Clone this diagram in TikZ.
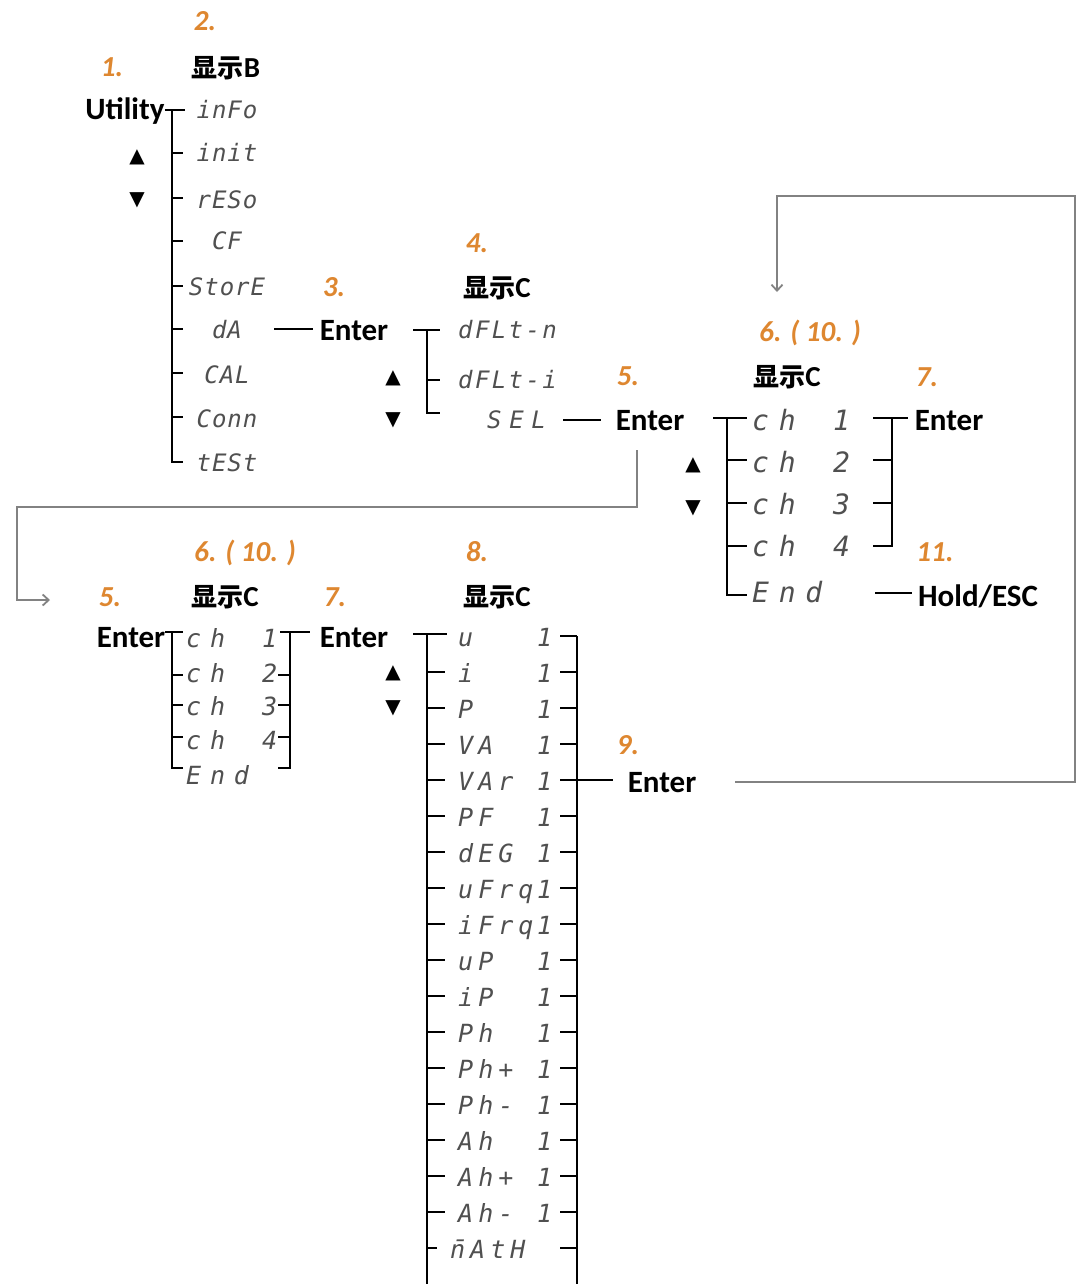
\documentclass[tikz,border=0pt]{standalone}
\usepackage{fontspec}
\setmainfont{Carlito}
\newfontfamily\cjk{Noto Sans CJK SC}
\newfontfamily\sym{DejaVu Sans}
\newfontfamily\segA{DejaVu Sans Mono}[LetterSpace=4]
\newfontfamily\segB{DejaVu Sans Mono}[LetterSpace=10]
\newfontfamily\segW{DejaVu Sans Mono}[LetterSpace=32]
\newfontfamily\segC{DejaVu Sans Mono}[LetterSpace=35]
\newfontfamily\segD{DejaVu Sans Mono}[LetterSpace=35]
\newfontfamily\segE{DejaVu Sans Mono}[LetterSpace=20]
\newcommand\xianshi[1]{{\cjk\bfseries\fontsize{26}{27}\selectfont 显示}{\fontsize{29}{30}\selectfont #1}}
\usetikzlibrary{arrows.meta}
\definecolor{org}{RGB}{222,135,48}
\definecolor{segc}{RGB}{80,80,80}
\definecolor{loopc}{RGB}{130,130,130}
\tikzset{
  lbl/.style={font=\fontsize{31}{32}\selectfont\bfseries, inner sep=0pt, text height=20pt, text depth=0pt},
  num/.style={font=\fontsize{29}{30}\selectfont\bfseries\itshape, text=org, inner sep=0pt, text height=18pt, text depth=0pt},
  disp/.style={font=\bfseries, inner sep=0pt, text height=19pt, text depth=0pt},
  arr/.style={font=\sym\fontsize{20}{20}\selectfont, inner sep=0pt},
  sA/.style={font=\segA\itshape\fontsize{24}{24}\selectfont, text=segc, inner sep=0pt, text height=17pt, text depth=0pt},
  sB/.style={font=\segB\itshape\fontsize{24}{24}\selectfont, text=segc, inner sep=0pt, text height=17pt, text depth=0pt, anchor=west},
  sW/.style={font=\segW\itshape\fontsize{24}{24}\selectfont, text=segc, inner sep=0pt, text height=17pt, text depth=0pt, anchor=west},
  sC/.style={font=\segC\itshape\fontsize{28}{28}\selectfont, text=segc, inner sep=0pt, text height=20pt, text depth=0pt, anchor=west},
  sD/.style={font=\segD\itshape\fontsize{25}{25}\selectfont, text=segc, inner sep=0pt, text height=18pt, text depth=0pt, anchor=west},
  sE/.style={font=\segE\itshape\fontsize{25}{25}\selectfont, text=segc, inner sep=0pt, text height=18pt, text depth=0pt, anchor=west},
  ln/.style={line width=1.6pt, black},
  lp/.style={line width=1.8pt, loopc},
}
\begin{document}
\begin{tikzpicture}[x=1pt,y=-1pt]
\useasboundingbox[fill=white] (0,0) rectangle (1077,1284);

% ---------- Group A : Utility ----------
\node[num] (n2) at (205,22) {2.};
\node[num] (n1) at (112,68) {1.};
\node[disp] (dB) at (226,68) {\xianshi{B}};
\node[lbl] (util) at (125,110) {Utility};
\node[arr] (upA) at (137,157) {▲};
\node[arr] (dnA) at (137,200) {▼};
\foreach \t/\y/\nm in {inFo/110/a1, init/153/a2, rESo/200/a3, CF/241/a4, StorE/287/a5, dA/330/a6, CAL/375/a7, Conn/419/a8, tESt/463/a9}
  \node[sA] (\nm) at (227,\y) {\t};
\draw[ln] (util.east) -- (185,110);
\draw[ln] (172,110) -- (172,462) -- (183,462);
\foreach \y in {153,198,241,286,329,373,417}
  \draw[ln] (172,\y) -- (183,\y);

% ---------- Group B : dA -> Enter ----------
\node[num] (n3) at (334,287) {3.};
\node[lbl] (e3) at (354,330) {Enter};
\node[num] (n4) at (477,243) {4.};
\node[disp] (dC1) at (497,288) {\xianshi{C}};
\node[arr] (upB) at (393,378) {▲};
\node[arr] (dnB) at (393,420) {▼};
\node[sB] (b1) at (458,330) {dFLt-n};
\node[sB] (b2) at (458,380) {dFLt-i};
\node[sW] (b3) at (487,420) {SEL};
\coordinate (dAout) at (274,329);
\draw[ln] (dAout) -- ([xshift=-7pt]e3.west |- dAout);
\draw[ln] (413,330) -- (440,330);
\draw[ln] (427,330) -- (427,413) -- (440,413);
\draw[ln] (427,380) -- (440,380);

% ---------- Group C : SEL -> Enter -> ch ----------
\node[num] (n5a) at (628,376) {5.};
\node[lbl] (e5) at (650,420) {Enter};
\coordinate (selout) at (563,420);
\draw[ln] (selout) -- ([xshift=-15pt]e5.west);
\node[num] (n6a) at (810,332) {6. ( 10. )};
\node[disp] (dC2) at (787,377) {\xianshi{C}};
\node[num] (n7a) at (927,377) {7.};
\node[arr] (upC) at (693,465) {▲};
\node[arr] (dnC) at (693,508) {▼};
\foreach \d/\y/\nm in {1/420/c1, 2/462/c2, 3/504/c3, 4/546/c4}{
  \node[sC] (\nm) at (752,\y) {ch};
  \node[sC] (\nm d) at (833,\y) {\d};
}
\node[sC] (c5) at (752,592) {End};
\draw[ln] (713,418) -- (747,418);
\draw[ln] (727,418) -- (727,595) -- (747,595);
\foreach \y in {460,503,546}
  \draw[ln] (727,\y) -- (747,\y);
\draw[ln] (873,418) -- (908,418);
\draw[ln] (892,418) -- (892,546) -- (873,546);
\foreach \y in {460,503}
  \draw[ln] (873,\y) -- (892,\y);
\node[lbl] (e7a) at (949,420) {Enter};
\node[num] (n11) at (935,552) {11.};
\node[lbl] (hold) at (978,596) {Hold/ESC};
\draw[ln] (875,593) -- ([xshift=-6pt]hold.west |- 875,593);

% loop 1
\coordinate (l1a) at (637,450);
\coordinate (l1b) at (50,600);
\draw[lp,-{Straight Barb[length=6pt,width=11pt]}] (l1a) -- (637,507) -- (17,507) -- (17,600) -- (l1b);

% ---------- Group D : bottom ----------
\node[num] (n6b) at (245,552) {6. ( 10. )};
\node[num] (n5b) at (110,597) {5.};
\node[disp] (dC3) at (225,597) {\xianshi{C}};
\node[num] (n7b) at (335,597) {7.};
\node[num] (n8) at (477,552) {8.};
\node[disp] (dC4) at (497,597) {\xianshi{C}};
\node[lbl] (e5b) at (131,637) {Enter};
\foreach \d/\y/\nm in {1/638/d1, 2/673/d2, 3/706/d3, 4/740/d4}{
  \node[sD] (\nm) at (186,\y) {ch};
  \node[sD] (\nm d) at (262,\y) {\d};
}
\node[sD] (d5) at (186,775) {End};
\draw[ln] (e5b.east |- 0,632) -- (183,632);
\draw[ln] (172,632) -- (172,768) -- (183,768);
\foreach \y in {675,705,737}
  \draw[ln] (172,\y) -- (183,\y);
\draw[ln] (280,632) -- (310,632);
\draw[ln] (290,632) -- (290,768) -- (278,768);
\foreach \y in {675,705,737}
  \draw[ln] (278,\y) -- (290,\y);

\node[lbl] (e7b) at (354,637) {Enter};
\node[arr] (upD) at (393,673) {▲};
\node[arr] (dnD) at (393,708) {▼};
\draw[ln] (413,634) -- (447,634);
\draw[ln] (427,634) -- (427,1284);
\draw[ln] (577,636) -- (577,1284);
\foreach \t/\k in {u/0, i/1, P/2, VA/3, VAr/4, PF/5, dEG/6, uFrq/7, iFrq/8, uP/9, iP/10, Ph/11, Ph+/12, Ph-/13, Ah/14, Ah+/15, Ah-/16}{
  \pgfmathtruncatemacro\yy{637+36*\k}
  \node[sE] (m\k) at (458,\yy) {\t};
  \node[sE] (m\k d) at (537,\yy) {1};
}
\node[sE] (m17) at (450,1249) {\rlap{\kern1pt ¯}nAtH};
\foreach \k in {0,...,17}{
  \pgfmathtruncatemacro\yy{636+36*\k}
  \draw[ln] (560,\yy) -- (577,\yy);
}
\foreach \k in {1,...,16}{
  \pgfmathtruncatemacro\yy{636+36*\k}
  \draw[ln] (427,\yy) -- (445,\yy);
}
\draw[ln] (427,1248) -- (437,1248);
\node[num] (n9) at (628,745) {9.};
\node[lbl] (e9) at (662,782) {Enter};
\draw[ln] (577,780) -- ([xshift=-15pt]e9.west |- 577,780);

% loop 2
\coordinate (l2a) at (735,782);
\coordinate (l2b) at (777,292);
\draw[lp,-{Straight Barb[length=6pt,width=11pt]}] (l2a) -- (1075,782) -- (1075,196) -- (777,196) -- (l2b);
\end{tikzpicture}
\end{document}
